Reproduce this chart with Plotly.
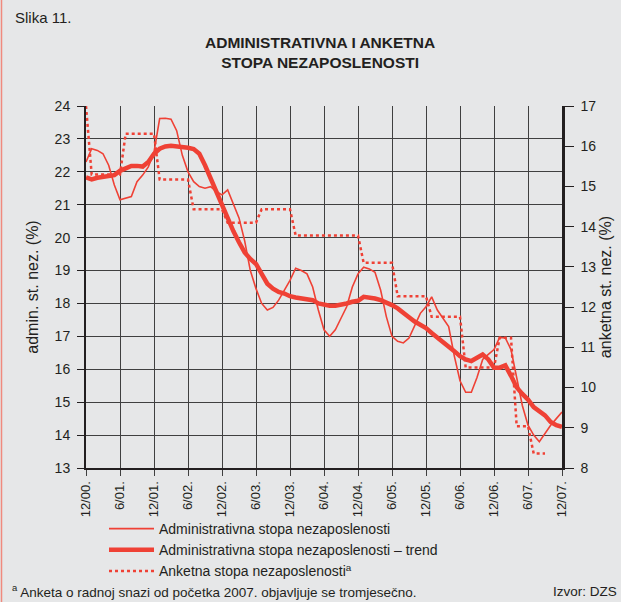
import plotly.graph_objects as go

# Months from 12/2000 (index 0) to 12/2007 (index 84)
tick_labels = ["12/00.", "6/01.", "12/01.", "6/02.", "12/02.", "6/03.", "12/03.", "6/04.",
               "12/04.", "6/05.", "12/05.", "6/06.", "12/06.", "6/07.", "12/07."]
tick_months = [0, 6, 12, 18, 24, 30, 36, 42, 48, 54, 60, 66, 72, 78, 84]

admin = [22.3, 22.7, 22.65, 22.55, 22.2, 21.6, 21.15, 21.2, 21.25, 21.7, 21.9, 22.15,
         22.6, 23.62, 23.63, 23.6, 23.25, 22.5, 22.0, 21.7, 21.55, 21.5, 21.55, 21.4,
         21.3, 21.45, 21.05, 20.6, 19.9, 19.0, 18.45, 18.0, 17.8, 17.88, 18.1, 18.4,
         18.7, 19.07, 19.0, 18.9, 18.5, 17.8, 17.2, 17.0, 17.2, 17.55, 17.9, 18.5,
         18.9, 19.1, 19.05, 18.95, 18.4, 17.6, 17.0, 16.85, 16.8, 16.95, 17.3, 17.7,
         17.9, 18.2, 17.8, 17.55, 17.3, 16.4, 15.65, 15.3, 15.3, 15.75, 16.3, 16.45,
         16.6, 16.97, 16.95, 16.6, 15.8, 14.9, 14.3, 14.0, 13.8, 14.05, 14.3, 14.5, 14.7]

trend = [21.83, 21.77, 21.82, 21.85, 21.85, 21.9, 22.03, 22.12, 22.18, 22.18, 22.16, 22.3,
         22.55, 22.7, 22.77, 22.79, 22.78, 22.76, 22.73, 22.69, 22.55, 22.2, 21.8, 21.35,
         20.95, 20.6, 20.2, 19.86, 19.55, 19.35, 19.2, 18.9, 18.6, 18.45, 18.35, 18.3,
         18.22, 18.18, 18.15, 18.13, 18.1, 18.0, 17.95, 17.93, 17.93, 17.95, 18.0, 18.05,
         18.08, 18.2, 18.18, 18.15, 18.1, 18.03, 17.95, 17.85, 17.7, 17.58, 17.45, 17.35,
         17.25, 17.1, 16.97, 16.85, 16.7, 16.55, 16.4, 16.3, 16.25, 16.35, 16.45, 16.3,
         16.05, 16.05, 16.12, 15.8, 15.45, 15.25, 15.08, 14.85, 14.72, 14.6, 14.4, 14.3, 14.25]

anketna = ([17.0] + [15.3] * 6 + [16.31] * 6 + [15.17] * 6 + [14.43] * 6 + [14.10] * 6 +
           [14.43] * 6 + [13.78] * 12 + [13.10] * 6 + [12.27] * 6 + [11.76] * 6 +
           [10.50] * 6 + [11.24] * 3 + [9.04] * 3 + [8.36] * 3 + [None] * 3)

months = list(range(len(admin)))

RED = "#ef4135"
TXT = "#231f20"
BG = "#e6e7e8"
GRID = "#404040"
FONT = "Liberation Sans, Arial, sans-serif"

fig = go.Figure()
fig.add_trace(go.Scatter(x=months, y=admin, mode="lines", name="Administrativna stopa nezaposlenosti",
                         line=dict(color=RED, width=1.6)))
fig.add_trace(go.Scatter(x=months, y=trend, mode="lines",
                         name="Administrativna stopa nezaposlenosti – trend",
                         line=dict(color=RED, width=4.5)))
fig.add_trace(go.Scatter(x=months, y=anketna, mode="lines", yaxis="y2",
                         name="Anketna stopa nezaposlenosti<sup>a</sup>",
                         line=dict(color=RED, width=2.5, dash="dot")))

L, R, T, B = 86, 59, 106, 134
W, H = 621, 602
pw, ph = W - L - R, H - T - B

def px(x):
    return (x - L) / pw

def py(y):
    return (H - B - y) / ph

fig.update_layout(
    width=W, height=H,
    margin=dict(l=L, r=R, t=T, b=B, pad=0, autoexpand=False),
    paper_bgcolor=BG, plot_bgcolor=BG,
    font=dict(family=FONT, color=TXT, size=13),
    showlegend=True,
    legend=dict(x=px(104), y=py(513), xanchor="left", yanchor="top",
                bgcolor="rgba(0,0,0,0)", font=dict(size=14, color=TXT),
                tracegroupgap=0, itemwidth=45),
    xaxis=dict(range=[0, 84], tickvals=tick_months, ticktext=tick_labels, tickangle=-90,
               showgrid=True, gridcolor=GRID, gridwidth=1,
               showline=True, linecolor=TXT, linewidth=2,
               ticks="outside", ticklen=6, tickcolor=GRID, tickfont=dict(size=13),
               zeroline=False, automargin=False),
    yaxis=dict(range=[13, 24], dtick=1, showgrid=True, gridcolor=GRID, gridwidth=1,
               showline=True, linecolor=TXT, linewidth=2,
               ticks="outside", ticklen=7, tickcolor=TXT, tickfont=dict(size=14),
               ticklabelstandoff=4,
               title=dict(text="admin. st. nez. (%)", font=dict(size=16), standoff=12),
               zeroline=False, automargin=False),
    yaxis2=dict(range=[8, 17], dtick=1, overlaying="y", side="right", showgrid=False,
                showline=True, linecolor=TXT, linewidth=2.5,
                ticks="outside", ticklen=9, tickcolor=TXT, tickfont=dict(size=14),
                ticklabelstandoff=4,
                title=dict(text="anketna st. nez. (%)", font=dict(size=16), standoff=5),
                zeroline=False, automargin=False),
    shapes=[dict(type="line", xref="paper", yref="paper",
                 x0=px(1.5), x1=px(1.5), y0=py(602), y1=py(0),
                 line=dict(color="#f08a7e", width=1.5))],
    annotations=[
        dict(text="Slika 11.", x=px(13), y=py(17), xref="paper", yref="paper",
             xanchor="left", yanchor="middle", showarrow=False, font=dict(size=15)),
        dict(text="<b>ADMINISTRATIVNA I ANKETNA<br>STOPA NEZAPOSLENOSTI</b>",
             x=px(320), y=py(53), xref="paper", yref="paper",
             xanchor="center", yanchor="middle", showarrow=False,
             font=dict(size=15.5)),
        dict(text="<sup>a</sup> Anketa o radnoj snazi od početka 2007. objavljuje se tromjesečno.",
             x=px(10), y=py(591), xref="paper", yref="paper",
             xanchor="left", yanchor="middle", showarrow=False, font=dict(size=13.5)),
        dict(text="Izvor: DZS", x=px(619), y=py(591), xref="paper", yref="paper",
             xanchor="right", yanchor="middle", showarrow=False, font=dict(size=13.5)),
    ],
)

fig.write_html("out.html", config={"displayModeBar": False},
               post_script="document.body.style.margin='0px';document.body.style.overflow='hidden';")
